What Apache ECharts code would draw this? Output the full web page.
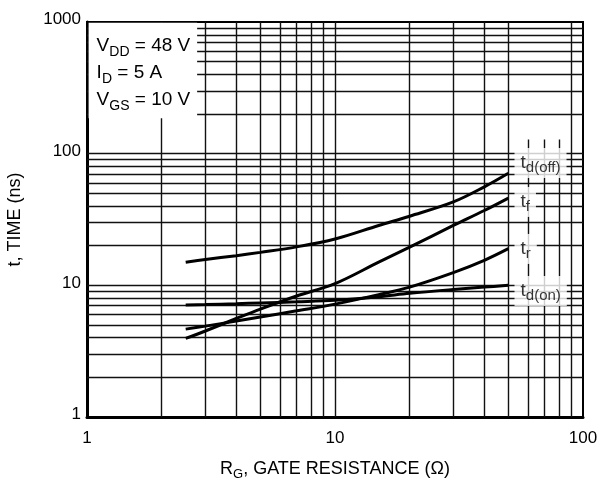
<!DOCTYPE html>
<html>
<head>
<meta charset="utf-8">
<script src="https://cdn.jsdelivr.net/npm/echarts@6/dist/echarts.min.js"></script>
<style>html,body{margin:0;padding:0;background:#fff;}#c{width:609px;height:486px;}</style>
</head>
<body>
<div id="c"></div>
<script>
// ---- data ----
const rg = [2.5, 3, 4, 5, 7, 10, 15, 20, 30, 40, 50];
const tdOff = [15, 15.7, 16.8, 17.8, 19.6, 22.5, 28.5, 33.5, 43, 56, 71];
const tf = [3.95, 4.5, 5.6, 6.6, 8.3, 10.3, 15, 19.5, 28.5, 37, 46];
const tr = [4.65, 4.9, 5.35, 5.75, 6.4, 7.2, 8.5, 9.7, 12.5, 15.5, 19];
const tdOn = [7.1, 7.15, 7.25, 7.35, 7.5, 7.7, 8.2, 8.7, 9.3, 9.7, 10];

const curveNames = ['td(off)', 'tf', 'tr', 'td(on)'];
const curveLabels = ['{m|t}{s|d(off)}', '{m|t}{s|f}', '{m|t}{s|r}', '{m|t}{s|d(on)}'];
const labelX = 52.7;
const labelY = [85, 43, 18.9, 9.06];

const xGrid = [2, 3, 4, 5, 6, 7, 8, 9, 10, 20, 30, 40, 50, 60, 70, 80, 90];
const xGridTop = [1000, 1000, 1000, 1000, 1000, 1000, 1000, 1000, 1000, 1000, 1000, 1000, 1000, 128, 128, 128, 1000];
const yGrid = [2, 3, 4, 5, 6, 7, 8, 9, 10, 20, 30, 40, 50, 60, 70, 80, 90, 100, 200, 300, 400, 500, 600, 700, 800, 900];

const xTickLabels = ['1', '10', '100'];
const yTickLabels = ['1', '10', '100', '1000'];

const conditions = ['{m|V}{s|DD}{m| = 48 V}', '{m|I}{s|D}{m| = 5 A}', '{m|V}{s|GS}{m| = 10 V}'];
const boxX = [1.015, 2.78];
const boxY = [186, 985];

// ---- build ----
const FONT = 'Liberation Sans, Arial, sans-serif';
const gridLines = [];
xGrid.forEach((x, i) => gridLines.push([{coord: [x, 1]}, {coord: [x, xGridTop[i]]}]));
yGrid.forEach(y => gridLines.push([{coord: [1, y]}, {coord: [100, y]}]));

const curves = [tdOff, tf, tr, tdOn].map((vals, i) => ({
  name: curveNames[i],
  type: 'line',
  z: 4,
  data: rg.map((x, j) => [x, vals[j]]),
  smooth: 0.35,
  symbol: 'none',
  lineStyle: {color: '#000', width: 3},
  silent: true,
  animation: false
}));

const chart = echarts.init(document.getElementById('c'), null, {renderer: 'canvas'});
chart.setOption({
  animation: false,
  backgroundColor: '#fff',
  grid: {left: 87, top: 22, right: 26, bottom: 69, containLabel: false, outerBoundsMode: 'none',
         show: true, borderColor: '#000', borderWidth: 2, backgroundColor: 'transparent'},
  xAxis: {
    type: 'log', logBase: 10, min: 1, max: 100,
    axisLine: {show: true, lineStyle: {color: '#000', width: 3}},
    axisTick: {show: false},
    splitLine: {show: false},
    axisLabel: {
      color: '#000', fontSize: 17, fontFamily: FONT, margin: 13,
      formatter: v => { const k = Math.round(Math.log10(v)); return xTickLabels[k] !== undefined ? xTickLabels[k] : ''; }
    },
    name: '{m|R}{s|G}{m|, GATE RESISTANCE (Ω)}',
    nameLocation: 'middle', nameGap: 40,
    nameTextStyle: {
      color: '#000', fontFamily: FONT,
      rich: {m: {fontSize: 18, lineHeight: 24, fontFamily: FONT, color: '#000'},
             s: {fontSize: 13, lineHeight: 14, verticalAlign: 'bottom', fontFamily: FONT, color: '#000'}}
    }
  },
  yAxis: {
    type: 'log', logBase: 10, min: 1, max: 1000,
    axisLine: {show: true, lineStyle: {color: '#000', width: 3}},
    axisTick: {show: false},
    splitLine: {show: false},
    axisLabel: {
      color: '#000', fontSize: 17, fontFamily: FONT, margin: 6, verticalAlign: 'bottom', lineHeight: 5,
      formatter: v => { const k = Math.round(Math.log10(v)); return yTickLabels[k] !== undefined ? yTickLabels[k] : ''; }
    },
    name: 't, TIME (ns)',
    nameLocation: 'middle', nameGap: 63,
    nameTextStyle: {color: '#000', fontSize: 18, fontFamily: FONT}
  },
  series: [
    {
      type: 'line', z: 1, data: [[1, 1]], symbol: 'none', lineStyle: {width: 0}, silent: true,
      markLine: {
        z: 1, silent: true, symbol: ['none', 'none'], label: {show: false}, animation: false,
        lineStyle: {color: '#111', width: 1.4, type: 'solid'},
        emphasis: {disabled: true},
        data: gridLines
      }
    },
    {
      type: 'line', z: 3, data: [[1, 1]], symbol: 'none', lineStyle: {width: 0}, silent: true,
      markArea: {
        z: 3, silent: true, animation: false,
        itemStyle: {color: '#fff', opacity: 1},
        emphasis: {disabled: true},
        label: {
          show: true, position: 'insideTopLeft', distance: 0, padding: [9, 0, 0, 8],
          formatter: conditions.join('\n'),
          rich: {m: {fontSize: 19, lineHeight: 27, fontFamily: FONT, color: '#000'},
                 s: {fontSize: 14, lineHeight: 16, verticalAlign: 'bottom', fontFamily: FONT, color: '#000'}}
        },
        data: [[{coord: [boxX[0], boxY[0]]}, {coord: [boxX[1], boxY[1]]}]]
      }
    },
    ...curves,
    {
      type: 'scatter', z: 5, silent: true, symbolSize: 1,
      itemStyle: {color: 'rgba(0,0,0,0)'},
      data: labelY.map((y, i) => ({value: [labelX, y], label: {formatter: curveLabels[i]}})),
      label: {
        show: true, position: 'right', distance: 0,
        backgroundColor: '#fff', padding: [3, 6, 3, 6],
        rich: {m: {fontSize: 19, lineHeight: 24, fontFamily: FONT, color: '#000'},
               s: {fontSize: 15, lineHeight: 16, verticalAlign: 'bottom', fontFamily: FONT, color: '#000'}}
      }
    }
  ]
});
</script>
</body>
</html>
